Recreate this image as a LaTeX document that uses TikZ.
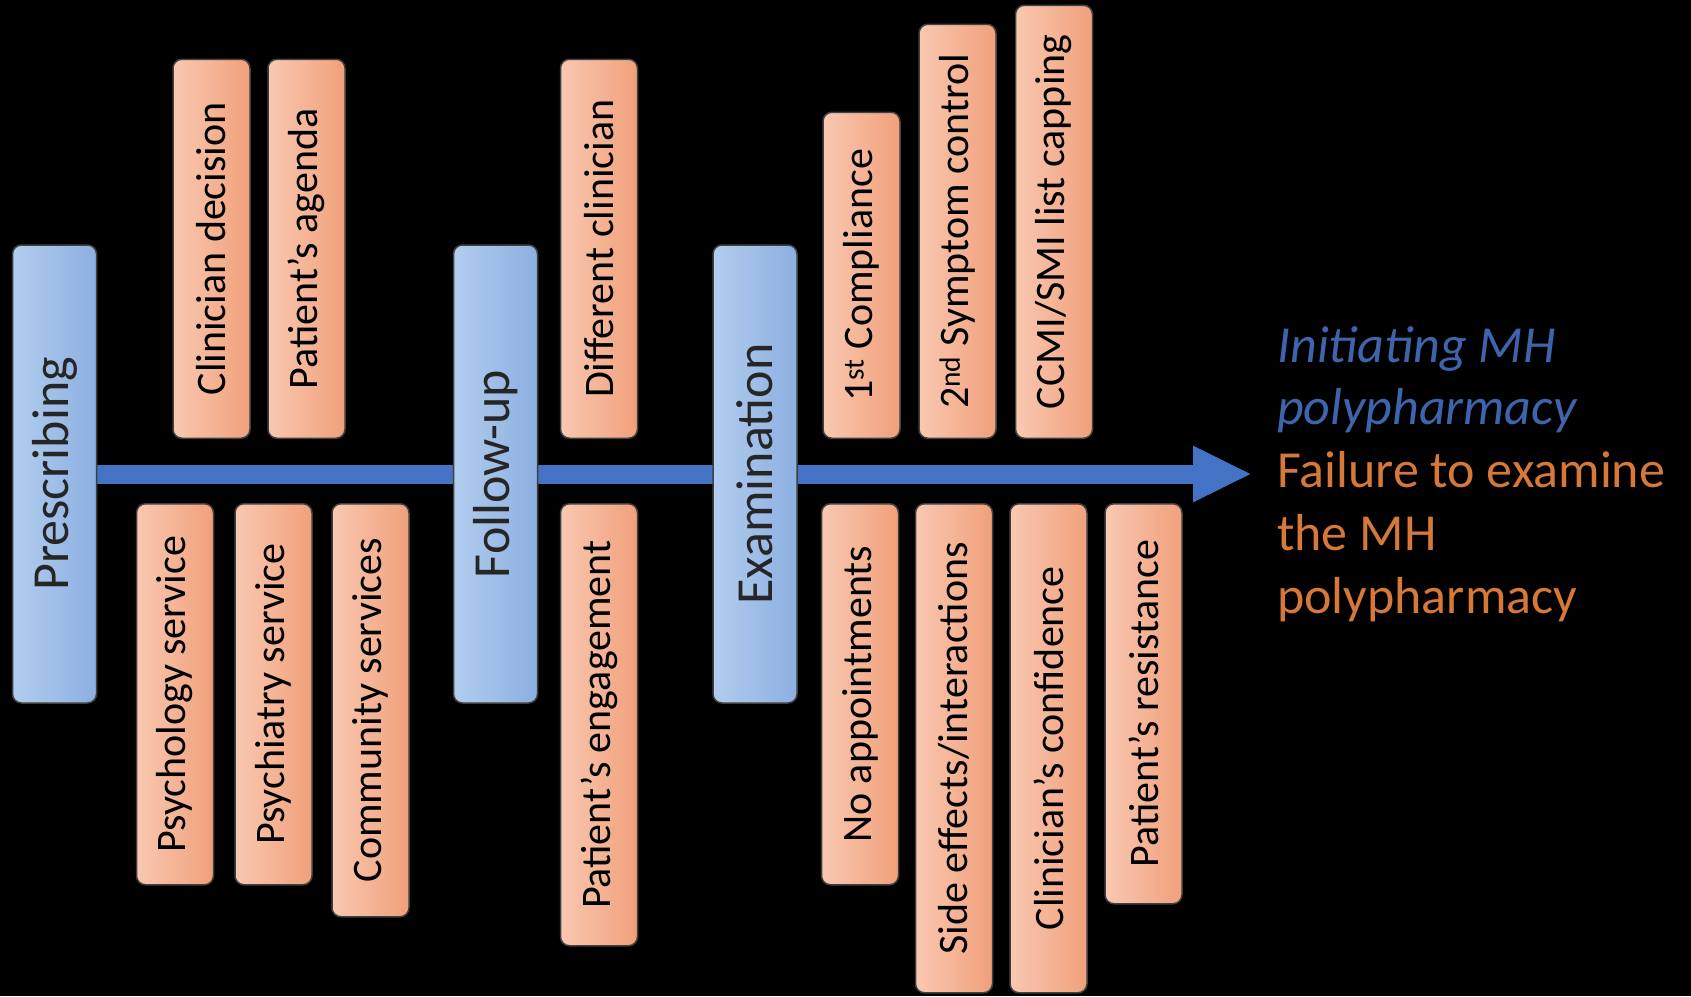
\documentclass[tikz,border=0pt]{standalone}
\usepackage{fontspec}
\setmainfont{Carlito}
\usepackage{xcolor}
\usepackage{tikz}
\usetikzlibrary{arrows.meta}
\definecolor{stagelight}{RGB}{178,205,238}
\definecolor{stagedark}{RGB}{140,175,225}
\definecolor{factorlight}{RGB}{249,200,178}
\definecolor{factordark}{RGB}{240,160,122}
\definecolor{arrowblue}{RGB}{68,114,196}
\definecolor{initblue}{RGB}{62,100,172}
\definecolor{failorange}{RGB}{214,120,55}

\pgfdeclarelayer{backdrop}
\pgfdeclarelayer{axis}
\pgfsetlayers{backdrop,axis,main}

\tikzset{
    stage/.style={rotate=90, rounded corners=9pt, draw=black!75, line width=1.5pt,
        left color=stagelight, right color=stagedark, inner sep=0pt,
        minimum width=458pt, minimum height=84pt,
        font=\fontsize{52}{60}\selectfont, text=black!85},
    factor/.style={rotate=90, rounded corners=9pt, draw=black!75, line width=1.5pt,
        left color=factorlight, right color=factordark, inner sep=0pt,
        minimum height=77pt, font=\fontsize{42}{50}\selectfont, text=black},
}

\begin{document}
\begin{tikzpicture}[x=1pt,y=-1pt]
                \begin{pgfonlayer}{backdrop}
                    \fill[black] (0,0) rectangle (1691,996);
                \end{pgfonlayer}
                % Stages
                \node[stage] (presc) at (54.5,474) {Prescribing};
                \node[stage] (follow) at (495.5,474) {Follow-up};
                \node[stage] (exam) at (755,474) {Examination};
                % Factors above the line
                \node[factor,anchor=west,minimum width=379pt] (clindec) at (211.5,439) {Clinician decision};
                \node[factor,anchor=west,minimum width=379pt] (agenda) at (306.5,439) {Patient’s agenda};
                \node[factor,anchor=west,minimum width=379pt] (diffclin) at (599,439) {Different clinician};
                \node[factor,anchor=west,minimum width=326pt] (compl) at (861.5,439) {1\textsuperscript{st} Compliance};
                \node[factor,anchor=west,minimum width=414pt] (sympt) at (957.5,439) {2\textsuperscript{nd} Symptom control};
                \node[factor,anchor=west,minimum width=433pt] (ccmi) at (1054,439) {CCMI/SMI list capping};
                % Factors below the line
                \node[factor,anchor=east,minimum width=381pt] (psychol) at (175,503) {Psychology service};
                \node[factor,anchor=east,minimum width=381pt] (psychia) at (273.5,503) {Psychiatry service};
                \node[factor,anchor=east,minimum width=413pt] (commun) at (370.5,503) {Community services};
                \node[factor,anchor=east,minimum width=442pt] (engage) at (599,503) {Patient’s engagement};
                \node[factor,anchor=east,minimum width=381pt] (noappt) at (860,503) {No appointments};
                \node[factor,anchor=east,minimum width=489pt] (sidefx) at (954,503) {Side effects/interactions};
                \node[factor,anchor=east,minimum width=489pt] (confid) at (1048.5,503) {Clinician’s confidence};
                \node[factor,anchor=east,minimum width=400pt] (resist) at (1143.5,503) {Patient’s resistance};
                % Main arrow
                \coordinate (tip) at (1252,474);
                \begin{pgfonlayer}{axis}
                    \draw[arrowblue,line width=19pt,-{Triangle[length=59pt,width=52pt]}] (presc.center) -- (tip);
                \end{pgfonlayer}
                % Outcome
                \node[anchor=north west,align=left,inner sep=0pt,text=initblue,
                    font=\fontsize{52}{62}\selectfont\itshape] (init) at (1277,326) {Initiating MH\\polypharmacy};
                \node[anchor=north west,align=left,inner sep=0pt,text=failorange,
                    font=\fontsize{52}{63}\selectfont] (fail) at (1277,451) {Failure to examine\\the MH\\polypharmacy};
            \end{tikzpicture}
\end{document}
